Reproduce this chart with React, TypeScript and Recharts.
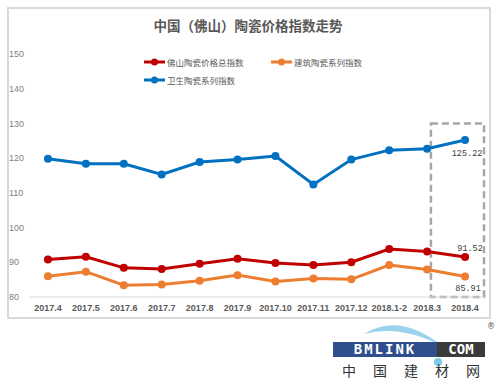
import React from "react";
import { LineChart, Line, XAxis, YAxis, Legend, ReferenceArea } from "recharts";

const months = [
  "2017.4", "2017.5", "2017.6", "2017.7", "2017.8", "2017.9",
  "2017.10", "2017.11", "2017.12", "2018.1-2", "2018.3", "2018.4",
];
const totalIndex = [90.8, 91.6, 88.4, 88.1, 89.6, 91.0, 89.8, 89.2, 90.0, 93.8, 93.1, 91.52];
const buildingIndex = [86.0, 87.3, 83.4, 83.6, 84.7, 86.3, 84.5, 85.3, 85.1, 89.2, 87.9, 85.91];
const sanitaryIndex = [119.8, 118.4, 118.4, 115.3, 118.9, 119.6, 120.6, 112.4, 119.6, 122.3, 122.7, 125.22];
const yTicks = [80, 90, 100, 110, 120, 130, 140, 150];

const TITLE = "中国（佛山）陶瓷价格指数走势";
const CJK = "'Noto Sans CJK SC', 'Noto Sans', sans-serif";

const series = [
  { key: "total", name: "佛山陶瓷价格总指数", color: "#C00000", values: totalIndex, labelDy: -8, labelDx: 5 },
  { key: "building", name: "建筑陶瓷系列指数", color: "#ED7D31", values: buildingIndex, labelDy: 12, labelDx: 3 },
  { key: "sanitary", name: "卫生陶瓷系列指数", color: "#0070C0", values: sanitaryIndex, labelDy: 14, labelDx: 2 },
];

const data = months.map((m, i) => {
  const row: Record<string, string | number> = { month: m };
  series.forEach((s) => (row[s.key] = s.values[i]));
  return row;
});

const LAST = months.length - 1;

function lastLabel(dx: number, dy: number) {
  return (props: any) => {
    const { x, y, value, index } = props;
    if (index !== LAST) return null;
    return (
      <text
        x={x + dx}
        y={y + dy}
        textAnchor="middle"
        dominantBaseline="middle"
        fontSize={8.5}
        fontFamily="'Liberation Mono', monospace"
        fill="#404040"
      >
        {Number(value).toFixed(2)}
      </text>
    );
  };
}

function LegendContent() {
  return (
    <div
      style={{
        display: "grid",
        gridTemplateColumns: "127px 127px",
        rowGap: 5,
        fontFamily: CJK,
        fontSize: 8.5,
        color: "#595959",
      }}
    >
      {series.map((s) => (
        <div key={s.key} style={{ display: "flex", alignItems: "center", height: 13 }}>
          <svg width={22} height={10} style={{ marginRight: 1 }}>
            <line x1={0} y1={5} x2={21} y2={5} stroke={s.color} strokeWidth={3} />
            <circle cx={10.5} cy={5} r={3.5} fill={s.color} />
          </svg>
          <span>{s.name}</span>
        </div>
      ))}
    </div>
  );
}

function DashedBox(props: any) {
  const { x, y, width, height } = props;
  const left = x + width * 0.3;
  return (
    <rect
      x={left}
      y={y}
      width={x + width - left}
      height={height}
      fill="none"
      stroke="#A6A6A6"
      strokeWidth={2.5}
      strokeDasharray="7 4"
    />
  );
}

function Logo() {
  return (
    <div style={{ position: "absolute", left: 330, top: 320, width: 170, height: 66 }}>
      <svg width={170} height={66} style={{ position: "absolute", left: 0, top: 0 }}>
        <path d="M 34 14 Q 70 -8 112 26 Q 70 4 34 14 Z" fill="#9BD3EE" />
        <rect x={3} y={22} width={104} height={15} fill="#2E4E8E" />
        <rect x={107} y={22} width={48} height={15} fill="#3A3A3A" />
        <circle cx={108} cy={42} r={4} fill="#7EC8E8" />
        <text x={55} y={34} textAnchor="middle" fontSize={14} fontWeight="bold" fill="#fff"
          fontFamily="'DejaVu Sans Mono', monospace" letterSpacing={2}>BMLINK</text>
        <text x={131} y={34} textAnchor="middle" fontSize={14} fontWeight="bold" fill="#fff"
          fontFamily="'DejaVu Sans Mono', monospace">COM</text>
        <text x={157} y={9} fontSize={8} fill="#555" fontFamily="'DejaVu Sans', sans-serif">®</text>
        <text x={12} y={56} fontSize={14} fill="#333" fontFamily={CJK} letterSpacing={17}>中国建材网</text>
      </svg>
    </div>
  );
}

export default function App() {
  return (
    <div style={{ position: "absolute", left: 0, top: 0, width: 500, height: 386, background: "#fff" }}>
      <div
        style={{
          position: "absolute",
          left: 7,
          top: 7,
          width: 484,
          height: 312,
          border: "2px solid #D9D9D9",
          boxSizing: "border-box",
        }}
      />
      <div
        style={{
          position: "absolute",
          left: 0,
          top: 15,
          width: 496,
          textAlign: "center",
          fontFamily: CJK,
          fontWeight: "bold",
          fontSize: 13.5,
          color: "#595959",
        }}
      >
        {TITLE}
      </div>
      <div style={{ position: "absolute", left: 0, top: 0 }}>
        <LineChart width={500} height={320} data={data} margin={{ top: 54, right: 16, bottom: 0, left: 0 }}>
          <XAxis
            dataKey="month"
            scale="band"
            interval={0}
            height={23}
            tickLine={false}
            axisLine={{ stroke: "#D9D9D9" }}
            tick={{ fontSize: 9, fontWeight: "bold", fill: "#595959", fontFamily: "'Liberation Sans', sans-serif" }}
          />
          <YAxis
            domain={[80, 150]}
            ticks={yTicks}
            width={29}
            axisLine={false}
            tickLine={false}
            tick={{ fontSize: 9, fill: "#7F7F7F", textAnchor: "start", dx: -12, fontFamily: "'Liberation Sans', sans-serif" }}
          />
          <Legend
            layout="horizontal"
            verticalAlign="middle"
            wrapperStyle={{ top: 55, left: 144, width: 260 }}
            content={() => <LegendContent />}
          />
          <ReferenceArea x1="2018.3" x2="2018.4" y1={80} y2={130} shape={<DashedBox />} />
          {series.map((s) => (
            <Line
              key={s.key}
              dataKey={s.key}
              name={s.name}
              type="linear"
              stroke={s.color}
              strokeWidth={3}
              dot={{ r: 4, fill: s.color, stroke: s.color, strokeWidth: 0 }}
              activeDot={false}
              isAnimationActive={false}
              label={lastLabel(s.labelDx, s.labelDy)}
            />
          ))}
        </LineChart>
      </div>
      <Logo />
    </div>
  );
}
